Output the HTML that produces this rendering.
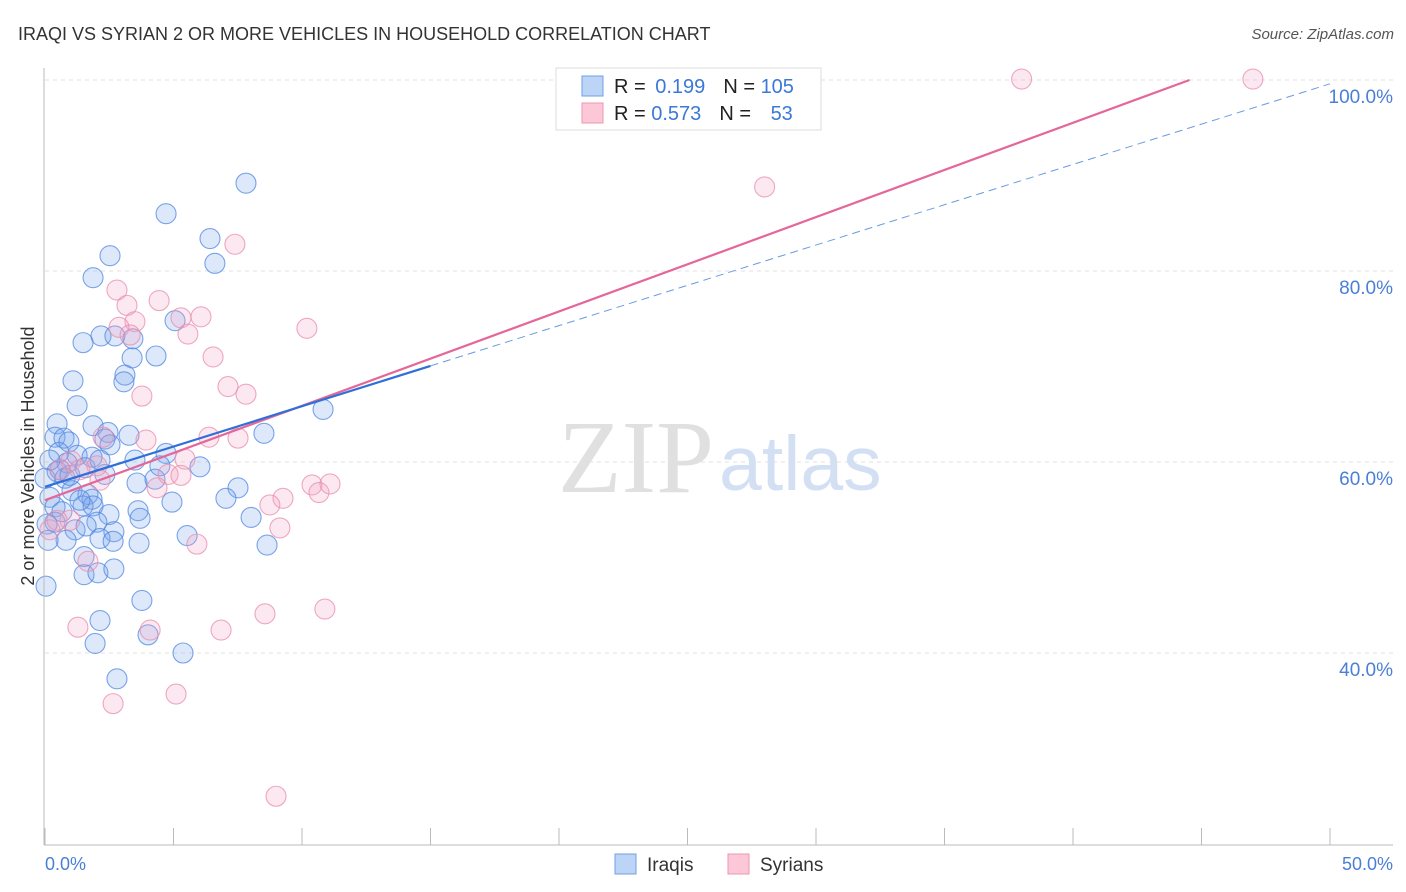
<!DOCTYPE html>
<html><head><meta charset="utf-8"><style>
body{margin:0;background:#fff;font-family:"Liberation Sans",sans-serif;}
svg{display:block}
</style></head><body>
<svg id="chart" width="1406" height="892" xmlns="http://www.w3.org/2000/svg">
<text x="18" y="40" font-size="18" fill="#333">IRAQI VS SYRIAN 2 OR MORE VEHICLES IN HOUSEHOLD CORRELATION CHART</text>
<text x="1394" y="39" font-size="15" fill="#555" text-anchor="end" font-style="italic">Source: ZipAtlas.com</text>
<g id="grid"></g>
<text x="714" y="492" font-size="104" font-family="Liberation Serif,serif" fill="#e0e0e0" text-anchor="end">ZIP</text>
<text x="719" y="490" font-size="77" fill="#d3e0f4">atlas</text>
<g id="pts"></g>
<g id="lines"></g>
<line x1="44" y1="68" x2="44" y2="845" stroke="#bbb"/>
<line x1="44" y1="845" x2="1393" y2="845" stroke="#bbb"/>
<g id="ticks"></g>
<text transform="translate(34,456) rotate(-90)" font-size="18" fill="#333" text-anchor="middle">2 or more Vehicles in Household</text>
<text x="45" y="870" font-size="18" fill="#4a7fd6">0.0%</text>
<text x="1393" y="870" font-size="18" fill="#4a7fd6" text-anchor="end">50.0%</text>
<g>
<rect x="556" y="68" width="265" height="62" fill="#fff" stroke="#ddd"/>
<rect x="582" y="76" width="21" height="20" fill="#bcd4f6" stroke="#6f9fe6"/>
<rect x="582" y="103" width="21" height="20" fill="#fcc8d8" stroke="#ec95b2"/>
<text x="614" y="93" font-size="20" fill="#222">R = <tspan fill="#3b78d8" dx="4">0.199</tspan><tspan dx="18" fill="#222">N = </tspan><tspan fill="#3b78d8">105</tspan></text>
<text x="614" y="120" font-size="20" fill="#222">R = <tspan fill="#3b78d8">0.573</tspan><tspan dx="18" fill="#222">N = </tspan><tspan fill="#3b78d8" dx="14">53</tspan></text>
</g>
<g>
<rect x="615" y="854" width="21" height="20" fill="#bcd4f6" stroke="#6f9fe6"/>
<text x="647" y="871" font-size="19" fill="#333">Iraqis</text>
<rect x="728" y="854" width="21" height="20" fill="#fcc8d8" stroke="#ec95b2"/>
<text x="760" y="871" font-size="19" fill="#333">Syrians</text>
</g>
</svg>
<script>
const yTicks=[40,60,80,100];
const xTickVals=[0,5,10,15,20,25,30,35,40,45,50];
const iraqiX=[7.82,4.71,6.42,2.53,6.61,1.87,5.06,2.18,2.72,3.42,1.48,3.39,4.32,3.11,3.07,1.09,1.25,10.82,0.47,1.87,0.39,0.74,0.93,2.45,3.27,8.52,2.33,0.54,1.25,1.83,0.86,3.50,4.71,4.47,6.03,2.33,0.47,0.78,0,3.58,4.28,7.51,1.05,1.67,1.83,0.19,7.04,4.94,0.39,1.48,1.87,3.62,2.49,3.70,8.02,0.39,2.02,0.08,1.17,1.60,2.68,5.53,0.82,2.14,2.65,3.66,8.64,1.52,1.52,2.06,2.68,0.04,3.77,2.14,4.01,1.95,5.37,2.80,0.58,0.97,1.56,0.19,1.36,0.66,0.12,2.53,2.14];
const iraqiY=[89.2,86.0,83.4,81.6,80.8,79.3,74.8,73.2,73.2,72.9,72.5,70.9,71.1,69.1,68.4,68.5,65.9,65.5,64.0,63.8,62.6,62.5,62.1,63.1,62.8,63.0,62.4,61.0,60.7,60.5,59.9,60.2,60.9,59.6,59.5,58.7,59.0,58.3,58.3,57.8,58.2,57.3,57.0,56.6,56.1,56.3,56.2,55.8,55.3,55.4,55.4,54.9,54.5,54.1,54.2,53.7,53.7,53.5,52.9,53.3,52.7,52.3,51.8,52.0,51.7,51.5,51.3,50.1,48.2,48.4,48.8,47.0,45.5,43.4,41.9,41.0,40.0,37.3,59.2,58.6,59.4,60.2,56.0,54.8,51.8,61.8,60.2];
const syrianX=[38.0,47.0,28.0,7.39,2.80,3.19,4.44,3.50,5.29,6.07,5.56,2.88,3.31,10.19,6.54,7.12,7.82,3.77,3.93,6.38,7.51,2.26,2.02,1.01,5.45,4.79,5.29,4.36,10.39,10.66,11.09,9.26,8.75,9.14,0.97,0.47,0.19,5.91,1.67,1.28,4.09,6.85,8.56,10.89,5.10,2.65,8.99,0.58,1.36,2.14];
const syrianY=[100.1,100.1,88.8,82.8,78.0,76.4,76.9,74.7,75.1,75.2,73.4,74.1,73.3,74.0,71.0,67.9,67.1,66.9,62.3,62.6,62.5,62.6,59.6,60.1,60.3,58.7,58.6,57.3,57.6,56.8,57.7,56.2,55.5,53.1,53.9,53.9,52.9,51.4,49.6,42.7,42.4,42.4,44.1,44.6,35.7,34.7,25.0,59.2,59.2,58.1];
const iraqiTrend=[57.4,0.844];   // intercept, slope
const syrianTrend=[56.0,0.988];
const NS="http://www.w3.org/2000/svg";
const sx=v=>45+v*25.7;
const sy=v=>1035-v*9.55;
function mk(tag,attrs,parent){const e=document.createElementNS(NS,tag);for(const k in attrs)e.setAttribute(k,attrs[k]);parent.appendChild(e);return e;}
const grid=document.getElementById('grid');
yTicks.forEach(t=>{
  const l=mk('line',{x1:45,x2:1393,y1:sy(t),y2:sy(t),stroke:'#e2e2e2','stroke-dasharray':'4,4'},grid);
  
  
  const tx=mk('text',{x:1393,y:sy(t)+23,'font-size':19,fill:'#4a7fd6','text-anchor':'end'},grid);
  tx.textContent=t.toFixed(1)+'%';
  
  
});
const ticks=document.getElementById('ticks');
xTickVals.forEach(t=>{
  const l=mk('line',{x1:sx(t),x2:sx(t),y1:828,y2:845,stroke:'#bbb'},ticks);
  
  
});
const pts=document.getElementById('pts');
iraqiX.forEach((x,i)=>{
  const c=mk('circle',{cx:sx(x),cy:sy(iraqiY[i]),r:10,fill:'rgba(120,165,235,0.25)',stroke:'rgba(80,135,225,0.75)','stroke-width':1.1},pts);
  
  
});
syrianX.forEach((x,i)=>{
  const c=mk('circle',{cx:sx(x),cy:sy(syrianY[i]),r:10,fill:'rgba(245,165,195,0.25)',stroke:'rgba(232,140,172,0.75)','stroke-width':1.1},pts);
  
  
});
const lines=document.getElementById('lines');
const bd=mk('line',{x1:sx(15),y1:sy(iraqiTrend[0]+iraqiTrend[1]*15),x2:sx(50),y2:sy(iraqiTrend[0]+iraqiTrend[1]*50),stroke:'#6a9be0','stroke-width':1,'stroke-dasharray':'8,5'},lines);


const pEnd=(100-syrianTrend[0])/syrianTrend[1];
const pl=mk('line',{x1:sx(0),y1:sy(syrianTrend[0]),x2:sx(pEnd),y2:sy(100),stroke:'#e5679a','stroke-width':2.2},lines);


const bl=mk('line',{x1:sx(0),y1:sy(iraqiTrend[0]),x2:sx(15),y2:sy(iraqiTrend[0]+iraqiTrend[1]*15),stroke:'#2f6fd8','stroke-width':2.2},lines);


</script>
</body></html>
